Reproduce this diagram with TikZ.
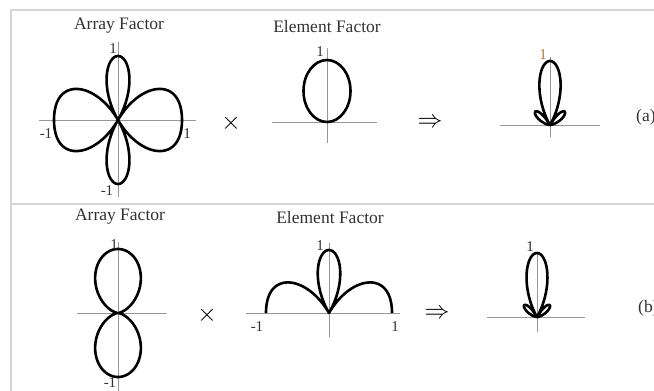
\documentclass[tikz,border=0pt]{standalone}
\usepackage{fontspec}
\setmainfont{Liberation Serif}
\usetikzlibrary{positioning}
\definecolor{framegray}{RGB}{214,214,214}
\definecolor{axisgray}{RGB}{150,150,150}
\definecolor{textgray}{RGB}{50,50,50}
\definecolor{tickorange}{RGB}{185,120,45}

\begin{document}
\begin{tikzpicture}[x=1pt,y=-1pt,
  ttl/.style={text=textgray,font=\fontsize{17.5}{20}\selectfont,inner sep=0pt},
  lbl/.style={text=textgray,font=\fontsize{15}{18}\selectfont,inner sep=0pt},
  op/.style={text=black,inner sep=0pt},
  ax/.style={axisgray,line width=0.9pt},
  pat/.style={line width=2.6pt,line join=round}]
  \useasboundingbox (0,0) rectangle (654,391);
  \clip (0,0) rectangle (654,391);
  % frame
  \draw[framegray,line width=1.8pt] (654,10) -- (11,10) -- (11,391);
  \draw[framegray,line width=1.8pt] (11,204) -- (654,204);
  % (a) array factor
  \node[ttl] (afa) at (119,26) {Array Factor};
  \draw[ax] (118,42) -- (118,197);
  \draw[ax] (39,120) -- (196,120);
  \draw[pat,shift={(118,120)}] plot[domain=0:360,samples=361,variable=\t]
    ({64*abs(cos(180*cos(\t)))*cos(\t)},{-64*abs(cos(180*cos(\t)))*sin(\t)});
  \node[lbl] (afatop) at (113,49) {1};
  \node[lbl] (afaleft) at (46,134) {-1};
  \node[lbl] (afaright) at (187,134) {1};
  \node[lbl] (afabot) at (107,191) {-1};
  \node[op,font=\fontsize{26}{26}\selectfont] (timesa) at (231,123) {$\times$};
  % (a) element factor
  \node[ttl] (efa) at (327,27) {Element Factor};
  \draw[ax] (327,48) -- (327,143);
  \draw[ax] (272,122) -- (377,122);
  \draw[pat] (327,91) ellipse [x radius=23.5,y radius=31];
  \node[lbl] (efatop) at (320,52) {1};
  \node[op,font=\fontsize{28}{28}\selectfont] (arra) at (430,123) {$\Rightarrow$};
  % (a) total pattern
  \draw[ax] (550,57) -- (550,137);
  \draw[ax] (500,125) -- (600,125);
  \draw[pat,shift={(550,125)}] plot[domain=0:180,samples=181,variable=\t]
    ({64*abs(cos(180*cos(\t)))*sin(\t)^2*cos(\t)},{-64*abs(cos(180*cos(\t)))*sin(\t)^2*sin(\t)});
  \node[lbl,text=tickorange] (tota) at (543,55) {1};
  \node[ttl,anchor=west] (taga) at (636,117) {(a)};
  % (b) array factor
  \node[ttl] (afb) at (120,217) {Array Factor};
  \draw[ax] (118,242) -- (118,391);
  \draw[ax] (77,313) -- (167,313);
  \draw[pat,shift={(118,313)}] plot[domain=0:360,samples=361,variable=\t]
    ({64*abs(cos(90*cos(\t)))*cos(\t)},{-64*abs(cos(90*cos(\t)))*sin(\t)});
  \node[lbl] (afbtop) at (114,245) {1};
  \node[lbl] (afbbot) at (110,383) {-1};
  \node[op,font=\fontsize{26}{26}\selectfont] (timesb) at (207,315) {$\times$};
  % (b) element factor
  \node[ttl] (efb) at (330,218) {Element Factor};
  \draw[ax] (329,243) -- (329,337);
  \draw[ax] (246,313) -- (400,313);
  \draw[pat,shift={(329,313)}] plot[domain=0:180,samples=181,variable=\t]
    ({63*abs(cos(180*cos(\t)))*cos(\t)},{-63*abs(cos(180*cos(\t)))*sin(\t)});
  \node[lbl] (efbtop) at (320,246) {1};
  \node[lbl] (efbleft) at (257,327) {-1};
  \node[lbl] (efbright) at (395,327) {1};
  \node[op,font=\fontsize{28}{28}\selectfont] (arrb) at (437,314) {$\Rightarrow$};
  % (b) total pattern
  \draw[ax] (537,252) -- (537,332);
  \draw[ax] (487,317) -- (585,317);
  \draw[pat,shift={(537,317)}] plot[domain=0:180,samples=181,variable=\t]
    ({64*abs(cos(90*cos(\t)))*abs(cos(180*cos(\t)))*cos(\t)},{-64*abs(cos(90*cos(\t)))*abs(cos(180*cos(\t)))*sin(\t)});
  \node[lbl] (totb) at (530,247) {1};
  \node[ttl,anchor=west] (tagb) at (638,308) {(b)};
\end{tikzpicture}
\end{document}
